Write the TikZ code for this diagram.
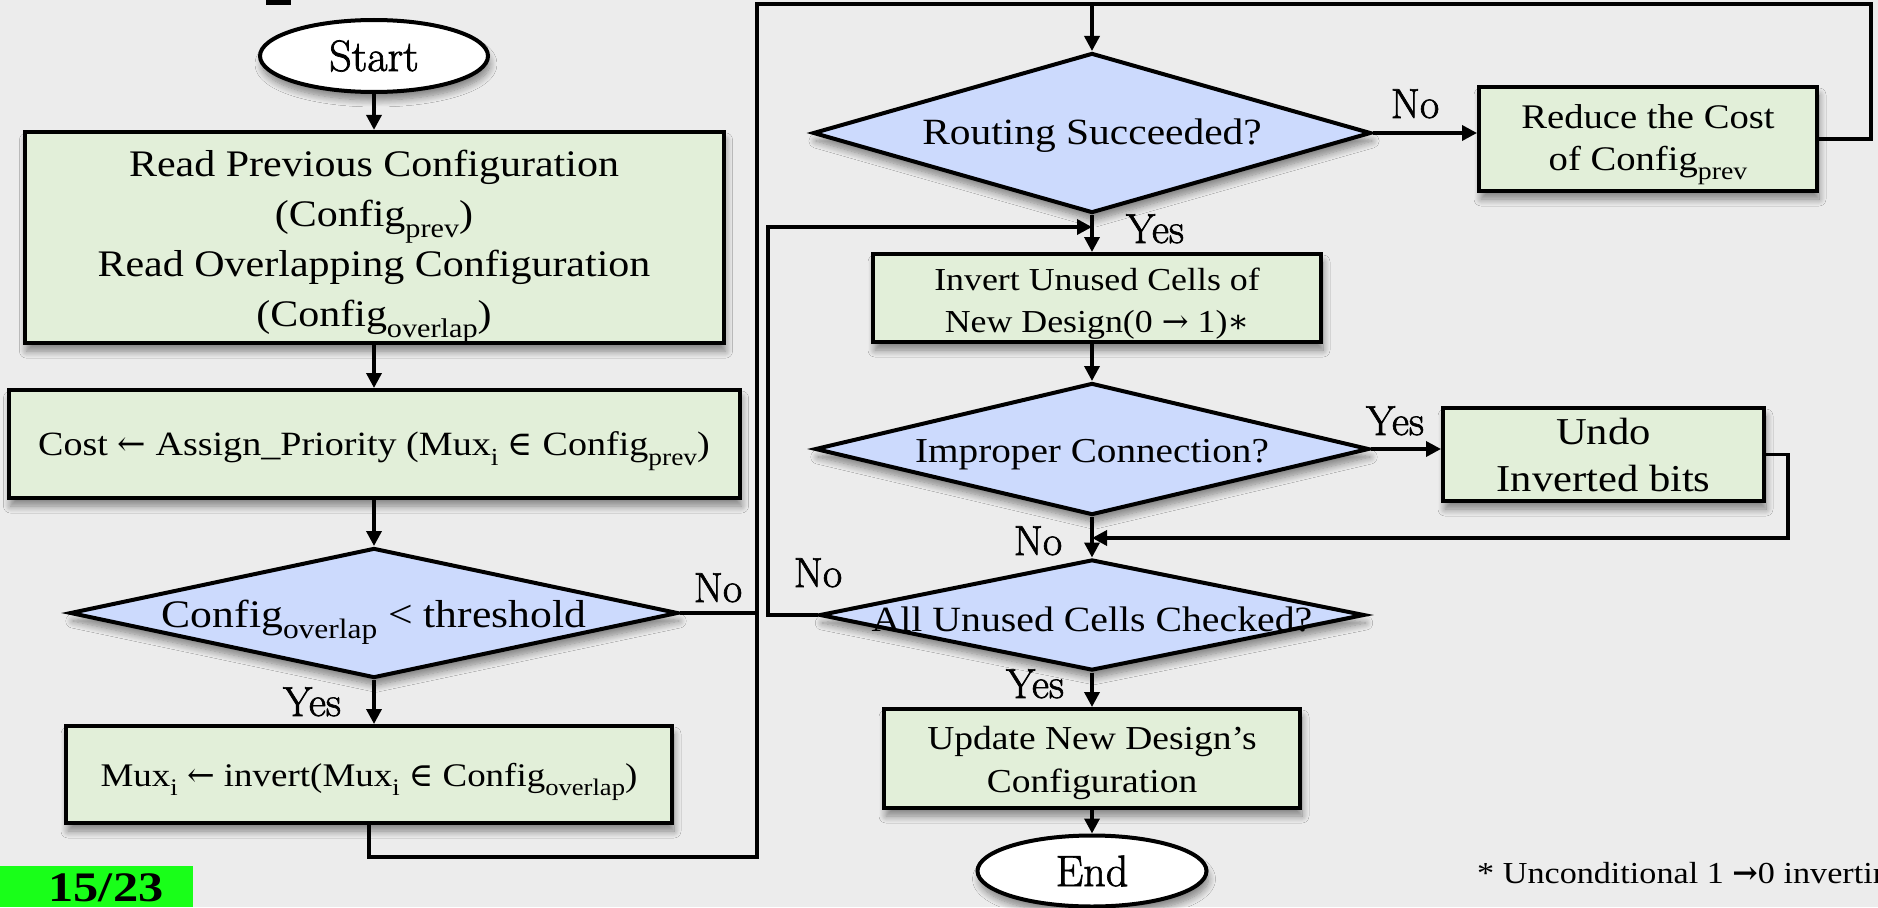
\documentclass[tikz,border=0pt]{standalone}
\usepackage{fontspec}
\usepackage{graphicx}
\usetikzlibrary{shapes.geometric,arrows.meta,shadows.blur}

\newfontfamily\cam{Liberation Serif}[FakeStretch=1.12]
\newfontfamily\tnr{Liberation Serif}
\newfontfamily\sym{DejaVu Serif}
\newfontfamily\lmh{Latin Modern Roman}[FakeBold=1.6]
\newcommand\fsz[2]{\fontsize{#1}{#2}\selectfont}
\newcommand\lo[1]{\raisebox{-0.28em}{\scalebox{0.72}{#1}}}

\definecolor{bgray}{HTML}{ECECEC}
\definecolor{procfill}{HTML}{E2EFD9}
\definecolor{decfill}{HTML}{CCDAFD}
\definecolor{tabgreen}{HTML}{19FF19}

\tikzset{
  soft/.style={blur shadow={shadow xshift=2pt, shadow yshift=-8pt,
      shadow blur radius=7pt, shadow blur steps=10, shadow opacity=45}},
  base/.style={draw=black, line width=4pt, inner sep=0pt, soft},
  proc/.style={base, rectangle, fill=procfill, align=center},
  dec/.style={base, diamond, fill=decfill},
  term/.style={base, ellipse, fill=white, font=\lmh\fsz{44}{50}},
  dtxt/.style={inner sep=0pt, font=\cam},
  flow/.style={line width=3.5pt, -{Triangle[length=15pt,width=15pt]}},
  wire/.style={line width=3.5pt},
  lbl/.style={inner sep=0pt, anchor=base, font=\lmh\fsz{42}{48}}
}

\begin{document}
\begin{tikzpicture}[x=1pt,y=-1pt]
\fill[bgray] (0,0) rectangle (1878,907);
\useasboundingbox (0,0) rectangle (1878,907);

% foot of the title glyph at the top edge
\fill[black] (266,0) rectangle (291,5);

% left column
\node[term, minimum width=228pt, minimum height=72pt] (start) at (374,56) {Start};
\node[proc, minimum width=699pt, minimum height=209pt, font=\cam\fsz{37.5}{50}] (read) at (374,237.5)
  {\rule{0pt}{45pt}Read Previous Configuration\\(Config\lo{prev})\\Read Overlapping Configuration\\(Config\lo{overlap})};
\node[proc, minimum width=731pt, minimum height=108pt, font=\cam\fsz{34}{40}, text depth=0pt] (cost) at (374,444)
  {Cost {\sym ←} Assign\_Priority (Mux\lo{i} {\sym ∈} Config\lo{prev})};
\node[dec, minimum width=608pt, minimum height=130pt,
  label={[dtxt, yshift=-9pt]center:{\fsz{39}{45}Config\lo{overlap} < threshold}}] (thr) at (374,613) {};
\node[proc, minimum width=606pt, minimum height=97pt, font=\cam\fsz{33}{40}, text depth=0pt] (inv) at (369,774.5)
  {Mux\lo{i} {\sym ←} invert(Mux\lo{i} {\sym ∈} Config\lo{overlap})};

% right column
\node[dec, minimum width=558pt, minimum height=160pt,
  label={[dtxt, yshift=-3pt]center:{\fsz{37}{42}Routing Succeeded?}}] (route) at (1092,133) {};
\node[proc, minimum width=338pt, minimum height=104pt, font=\cam\fsz{34.5}{42}] (reduce) at (1648,139)
  {\rule{0pt}{35pt}Reduce the Cost\\of Config\lo{prev}};
\node[proc, minimum width=448pt, minimum height=88pt, font=\cam\fsz{32}{42}] (invcells) at (1097,298)
  {\rule{0pt}{33pt}Invert Unused Cells of\\New Design(0 {\sym →} 1){\sym ∗}};
\node[dec, minimum width=554pt, minimum height=132pt,
  label={[dtxt, yshift=-6pt]center:{\fsz{35}{40}Improper Connection?}}] (improper) at (1092,449) {};
\node[proc, minimum width=321pt, minimum height=93pt, font=\cam\fsz{38}{47}] (undo) at (1603.5,454.5)
  {Undo\\Inverted bits};
\node[dec, minimum width=545pt, minimum height=111pt,
  label={[dtxt, yshift=-4pt]center:{\fsz{35.5}{40}All Unused Cells Checked?}}] (allchk) at (1092,615) {};
\node[proc, minimum width=416pt, minimum height=99pt, font=\cam\fsz{33.5}{43}] (update) at (1092,758.5)
  {\rule{0pt}{33pt}Update New Design’s\\Configuration};
\node[term, minimum width=229pt, minimum height=71pt] (end) at (1092,871) {End};

% routing points of the loops
\coordinate (loopBot) at (757,857);
\coordinate (topL) at (757,4);
\coordinate (topR) at (1871,4);
\coordinate (backTop) at (768,227);
\coordinate (undoCorner) at (1788,538);

% left column connectors
\draw[flow] (start.south) -- (start.south |- read.north);
\draw[flow] (read.south) -- (cost.north);
\draw[flow] (cost.south) -- (thr.north);
\draw[flow] (thr.south) -- (thr.south |- inv.north);
\draw[wire] (thr.east) -- (thr.east -| topL);
\draw[flow] (inv.south) |- (loopBot) -- (topL) -| (route.north);

% right column connectors
\draw[flow] (route.east) -- (route.east -| reduce.west);
\draw[wire] (reduce.east) -| (topR) -- (topR -| route.north);
\draw[flow] (route.south) -- (route.south |- invcells.north);
\draw[flow] (improper.north |- invcells.south) -- (improper.north);
\draw[flow] (improper.east) -- (improper.east -| undo.west);
\draw[flow] (undo.east) -| (undoCorner) -- (undoCorner -| allchk.north);
\draw[flow] (improper.south) -- (allchk.north);
\draw[flow] (allchk.west) -| (backTop) -- (backTop -| route.south);
\draw[flow] (allchk.south) -- (update.north);
\draw[flow] (update.south) -- (end.north);

% branch labels
\node[lbl] (noThr) at (718,602) {No};
\node[lbl] (yesThr) at (312,716) {Yes};
\node[lbl] (noRoute) at (1415,118) {No};
\node[lbl] (yesRoute) at (1155,243) {Yes};
\node[lbl] (yesImp) at (1395,435) {Yes};
\node[lbl] (noImp) at (1038,555) {No};
\node[lbl] (noAll) at (818,587) {No};
\node[lbl] (yesAll) at (1035,698) {Yes};

% slide number tab
\fill[tabgreen] (0,866) rectangle (193,907);
\node[inner sep=0pt, anchor=base, font=\tnr\bfseries\fsz{42}{48}] (pageno) at (106,901) {\scalebox{1.2}[1]{15/23}};

% footnote, running off the right edge
\begin{scope}
\clip (0,0) rectangle (1878,907);
\node[inner sep=0pt, anchor=base west, font=\cam\fsz{30.5}{35}] (foot) at (1477,883)
  {* Unconditional 1 {\sym\bfseries →}0 inverting};
\end{scope}
\end{tikzpicture}
\end{document}
